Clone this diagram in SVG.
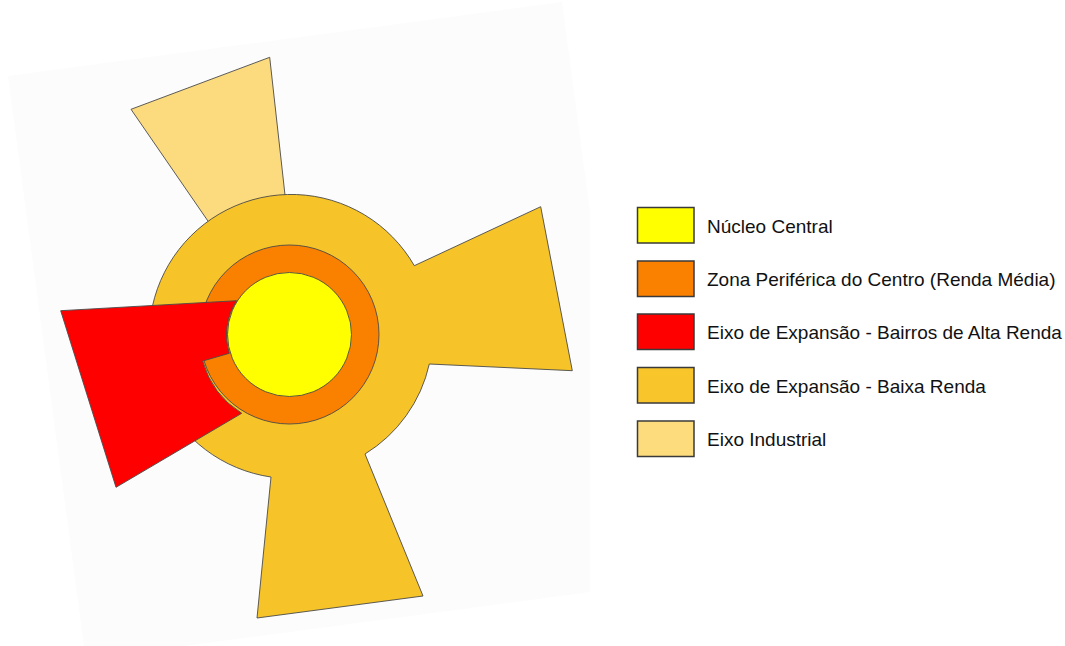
<svg xmlns="http://www.w3.org/2000/svg" width="1065" height="646" viewBox="0 0 1065 646">
<style>
.zone{stroke:#4a4a4a;stroke-width:0.9;stroke-linejoin:round}
.box{stroke:#3a3a3a;stroke-width:1.5}
.lbl{font-family:"Liberation Sans",Arial,sans-serif;font-size:19px;fill:#111}
</style>
<rect width="1065" height="646" fill="#ffffff"/>
<polygon points="8,76 562,2 590,212 590,592 184,646 84,646" fill="#fcfcfc"/>
<g id="eixo-industrial">
<polygon class="zone" points="131,109.3 269.7,57.3 290,240 221,240" fill="#fcdb7e"/>
</g>
<g id="baixa-renda">
<path class="zone" fill="#f6c428" d="M414.3,265.7 L540.7,206.7 L572.3,370.7 L429.3,364 A142,142 0 0 1 365,454 L423,596 L257,618 L271,477 A142,142 0 1 1 414.3,265.7 Z"/>
</g>
<g id="zona-periferica">
<circle class="zone" cx="289.5" cy="334.5" r="89.5" fill="#fa8000"/>
</g>
<g id="alta-renda">
<path class="zone" fill="#ff0000" d="M60.7,310.7 L236.7,300.7 A62,62 0 0 0 229.3,353.3 L202.7,361 A90,90 0 0 0 241.7,413.3 L116,487.3 Z"/>
</g>
<g id="nucleo-central">
<circle class="zone" cx="289.5" cy="334.5" r="62" fill="#ffff00"/>
</g>
<g id="legenda">
<rect class="box" x="637.5" y="207.5" width="56.5" height="35.5" fill="#ffff00"/>
<text class="lbl" x="707" y="232.5">Núcleo Central</text>
<rect class="box" x="637.5" y="261" width="56.5" height="35.5" fill="#fa8000"/>
<text class="lbl" x="707" y="286">Zona Periférica do Centro (Renda Média)</text>
<rect class="box" x="637.5" y="314" width="56.5" height="35.5" fill="#ff0000"/>
<text class="lbl" x="707" y="339">Eixo de Expansão - Bairros de Alta Renda</text>
<rect class="box" x="637.5" y="367.5" width="56.5" height="35.5" fill="#f8c62b"/>
<text class="lbl" x="707" y="392.5">Eixo de Expansão - Baixa Renda</text>
<rect class="box" x="637.5" y="421" width="56.5" height="35.5" fill="#fddc7e"/>
<text class="lbl" x="707" y="446">Eixo Industrial</text>
</g>
</svg>
